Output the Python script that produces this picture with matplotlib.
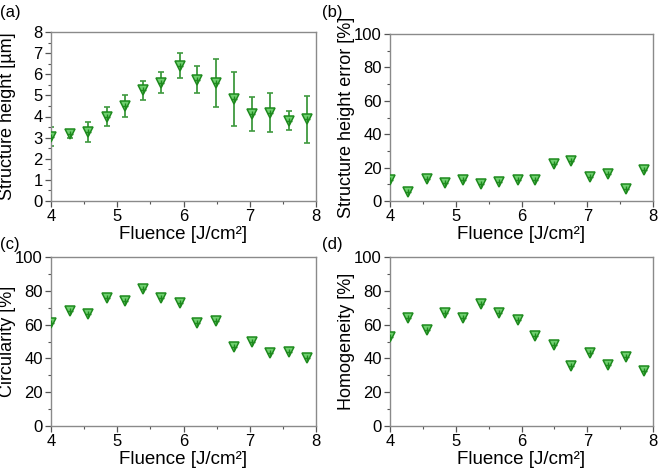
import matplotlib
matplotlib.use("Agg")
import matplotlib.pyplot as plt
from matplotlib.ticker import MultipleLocator

plt.rcParams['font.family'] = ['Liberation Sans', 'DejaVu Sans']

fluence = [4.0, 4.28, 4.56, 4.84, 5.11, 5.39, 5.66, 5.94, 6.21, 6.49, 6.76, 7.04, 7.31, 7.59, 7.86]
height = [3.05, 3.17, 3.26, 3.99, 4.50, 5.25, 5.60, 6.41, 5.75, 5.57, 4.83, 4.11, 4.18, 3.81, 3.86]
height_err = [0.45, 0.20, 0.49, 0.45, 0.52, 0.45, 0.49, 0.59, 0.62, 1.13, 1.27, 0.79, 0.93, 0.43, 1.11]
height_error_pct = [12.8, 5.6, 13.2, 11.0, 12.4, 10.4, 11.2, 12.8, 12.8, 22.4, 24.0, 14.4, 16.4, 7.2, 18.4]
circularity = [61, 68, 66, 76, 74, 81, 76, 73, 61, 62, 47, 50, 43, 44, 40]
homogeneity = [52.5, 64, 57, 67, 64, 72, 67, 63, 53, 48, 35.5, 43, 36, 41, 32.5]

fig = plt.figure(figsize=(6.58, 4.68), dpi=100)
W, H = 658, 468

def axes_px(l, t, r, b):
    return fig.add_axes([l / W, 1 - b / H, (r - l) / W, (b - t) / H])

ax_a = axes_px(51, 32, 316, 201)
ax_b = axes_px(390, 34, 653, 201)
ax_c = axes_px(51, 257, 316, 426)
ax_d = axes_px(390, 257, 653, 426)

FACE = '#6fd06f'
EDGE = '#1e8a1e'
ERRC = '#3f9a3f'

def style(ax, ymax, ymajor, yminor, ylabel, label_right_px):
    ax.set_xlim(4, 8)
    ax.set_ylim(0, ymax)
    ax.xaxis.set_major_locator(MultipleLocator(1))
    ax.xaxis.set_minor_locator(MultipleLocator(0.5))
    ax.yaxis.set_major_locator(MultipleLocator(ymajor))
    ax.yaxis.set_minor_locator(MultipleLocator(yminor))
    for s in ax.spines.values():
        s.set_color('#8a8a8a')
        s.set_linewidth(1.0)
    ax.tick_params(which='both', direction='out', color='#555555', top=False, right=False)
    ax.tick_params(which='major', length=4, width=0.9, labelsize=12, pad=2)
    ax.tick_params(which='minor', length=2.5, width=0.8)
    ax.set_xlabel('Fluence [J/cm²]', fontsize=13.5, labelpad=1)
    ax.set_ylabel(ylabel, fontsize=13)
    bbox = ax.get_position()
    left_px = bbox.x0 * W
    width_px = bbox.width * W
    ax.yaxis.set_label_coords((label_right_px - left_px) / width_px, 0.5)

def markers(ax, x, y):
    ax.plot(x, y, linestyle='none', marker='v', markersize=7, markerfacecolor=FACE,
            markeredgecolor=EDGE, markeredgewidth=1.1, clip_on=True, zorder=3)
    ax.plot(x, y, linestyle='none', marker='+', markersize=5, markeredgecolor=EDGE,
            markeredgewidth=1.0, clip_on=True, zorder=4)

ax_a.errorbar(fluence, height, yerr=height_err, fmt='none', ecolor=ERRC,
              elinewidth=1.3, capsize=2.5, capthick=1.2, zorder=2)
markers(ax_a, fluence, height)
style(ax_a, 8, 1, 0.5, 'Structure height [µm]', 16)

markers(ax_b, fluence, height_error_pct)
style(ax_b, 100, 20, 10, 'Structure height error [%]', 355)

markers(ax_c, fluence, circularity)
style(ax_c, 100, 20, 10, 'Circularity [%]', 16)

markers(ax_d, fluence, homogeneity)
style(ax_d, 100, 20, 10, 'Homogeneity [%]', 355)

for lab, (px, py) in zip(['(a)', '(b)', '(c)', '(d)'],
                         [(0, 12), (322, 12), (0, 245), (322, 245)]):
    fig.text(px / W, 1 - py / H, lab, fontsize=12, ha='left', va='center')

fig.savefig('out.png', dpi=100)
